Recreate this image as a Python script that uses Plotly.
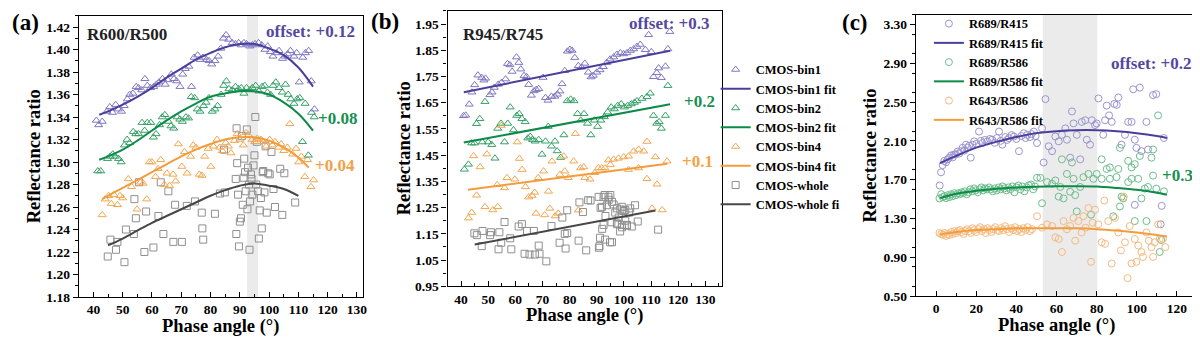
import plotly.graph_objects as go

# ---------------- data: panel (a) R600/R500 ----------------
a_bin1_x = [41.0, 41.8, 43.0, 44.6, 45.6, 46.5, 47.6, 48.5, 49.6, 50.5,
            51.6, 52.4, 53.5, 54.6, 55.4, 56.5, 57.6, 58.4, 59.5, 60.6,
            61.5, 62.4, 63.6, 64.5, 65.4, 66.6, 67.5, 68.4, 69.6, 70.5,
            71.4, 72.6, 73.5, 74.4, 75.6, 76.5, 77.4, 78.6, 79.5, 80.4,
            81.5, 82.6, 83.5, 84.4, 85.3, 86.2, 87.4, 88.5, 89.6, 90.5,
            91.4, 92.3, 93.4, 94.3, 95.2, 96.4, 97.5, 98.6, 99.5, 100.4,
            101.3, 102.5, 103.4, 104.6, 105.5, 106.4, 107.3, 108.5, 109.4, 110.3,
            111.5, 112.4, 113.5, 114.4, 115.5]
a_bin1_y = [1.337, 1.333, 1.336, 1.345, 1.349, 1.344, 1.351, 1.347, 1.345, 1.350,
            1.356, 1.360, 1.361, 1.367, 1.366, 1.364, 1.374, 1.368, 1.366, 1.367,
            1.369, 1.371, 1.374, 1.369, 1.373, 1.378, 1.374, 1.372, 1.367, 1.378,
            1.383, 1.385, 1.367, 1.393, 1.395, 1.391, 1.393, 1.391, 1.390, 1.387,
            1.390, 1.394, 1.401, 1.410, 1.413, 1.409, 1.406, 1.405, 1.406, 1.404,
            1.406, 1.405, 1.403, 1.404, 1.405, 1.406, 1.404, 1.400, 1.403, 1.398,
            1.394, 1.397, 1.399, 1.392, 1.394, 1.396, 1.399, 1.394, 1.397, 1.371,
            1.393, 1.397, 1.399, 1.372, 1.347]
a_bin2_x = [41.5, 42.5, 44.8, 45.7, 46.6, 47.5, 48.6, 49.5, 50.6, 51.5,
            52.4, 53.6, 54.5, 55.4, 56.6, 57.5, 58.4, 59.6, 60.5, 61.4,
            62.6, 63.5, 64.4, 65.6, 66.5, 67.4, 68.6, 69.5, 70.4, 71.6,
            72.5, 73.4, 74.6, 75.5, 76.4, 77.6, 78.5, 79.4, 80.6, 81.5,
            82.4, 83.6, 84.5, 85.4, 86.3, 87.4, 88.5, 89.6, 90.5, 91.4,
            92.3, 93.4, 94.3, 95.4, 96.5, 97.6, 98.5, 99.4, 100.5, 101.4,
            102.3, 103.4, 104.5, 105.6, 106.5, 107.4, 108.5, 109.6, 110.5, 111.4,
            112.3, 113.4, 114.5, 115.4]
a_bin2_y = [1.292, 1.292, 1.303, 1.305, 1.307, 1.305, 1.303, 1.300, 1.315, 1.320,
            1.317, 1.327, 1.325, 1.325, 1.335, 1.328, 1.335, 1.335, 1.322, 1.325,
            1.333, 1.340, 1.342, 1.336, 1.332, 1.330, 1.340, 1.338, 1.336, 1.340,
            1.339, 1.358, 1.357, 1.347, 1.345, 1.350, 1.353, 1.357, 1.345, 1.347,
            1.350, 1.360, 1.368, 1.372, 1.365, 1.364, 1.367, 1.365, 1.366, 1.361,
            1.366, 1.364, 1.366, 1.368, 1.363, 1.367, 1.368, 1.362, 1.360, 1.368,
            1.371, 1.366, 1.362, 1.369, 1.360, 1.356, 1.352, 1.356, 1.357, 1.318,
            1.352, 1.306, 1.344, 1.340]
a_bin4_x = [43.0, 44.0, 45.2, 46.1, 47.0, 48.2, 49.1, 50.0, 51.9, 53.0,
            54.9, 56.1, 57.0, 58.2, 59.1, 60.0, 61.2, 62.1, 63.0, 64.2,
            65.1, 66.0, 67.2, 68.1, 69.0, 70.2, 71.1, 72.0, 73.2, 74.1,
            75.0, 76.2, 77.1, 78.0, 79.2, 80.1, 81.0, 82.2, 83.1, 84.0,
            85.2, 86.1, 87.0, 88.2, 89.1, 90.0, 91.2, 92.1, 93.0, 94.2,
            95.1, 96.0, 97.2, 98.1, 99.0, 100.2, 101.1, 102.0, 103.2, 104.1,
            105.0, 106.2, 107.1, 108.0, 109.2, 110.1, 111.0, 112.2, 113.1, 114.3,
            115.2]
a_bin4_y = [1.253, 1.267, 1.270, 1.263, 1.271, 1.262, 1.270, 1.268, 1.285, 1.278,
            1.258, 1.282, 1.281, 1.267, 1.300, 1.300, 1.287, 1.294, 1.302, 1.280,
            1.290, 1.279, 1.289, 1.283, 1.316, 1.296, 1.309, 1.290, 1.305, 1.315,
            1.313, 1.289, 1.288, 1.305, 1.312, 1.296, 1.314, 1.320, 1.313, 1.310,
            1.317, 1.314, 1.308, 1.319, 1.325, 1.320, 1.315, 1.326, 1.324, 1.320,
            1.318, 1.321, 1.320, 1.318, 1.314, 1.320, 1.315, 1.318, 1.313, 1.316,
            1.310, 1.313, 1.334, 1.307, 1.312, 1.300, 1.305, 1.287, 1.302, 1.278,
            1.284]
a_whole_x = [44.9, 45.8, 47.7, 48.2, 50.6, 51.1, 53.8, 54.0, 54.5, 55.6,
             57.4, 58.0, 60.5, 62.2, 63.0, 63.9, 65.6, 67.3, 67.9, 70.2,
             71.9, 74.7, 77.0, 77.2, 77.5, 81.5, 83.2, 84.6, 84.9, 88.6,
             88.8, 88.9, 89.1, 89.4, 89.7, 90.0, 90.4, 90.7, 91.0, 91.3,
             91.5, 91.8, 92.0, 92.4, 92.6, 92.8, 93.1, 93.3, 93.5, 93.8,
             94.0, 94.3, 94.7, 95.0, 95.3, 95.6, 95.8, 96.2, 96.5, 96.8,
             97.2, 97.5, 97.8, 98.0, 98.4, 98.8, 99.2, 99.7, 100.2, 100.8,
             101.5, 102.0, 103.8, 104.5, 105.2, 108.9]
a_whole_y = [1.216, 1.231, 1.222, 1.229, 1.211, 1.240, 1.236, 1.267, 1.250, 1.282,
             1.220, 1.256, 1.224, 1.252, 1.282, 1.236, 1.274, 1.229, 1.262, 1.229,
             1.261, 1.265, 1.255, 1.241, 1.231, 1.254, 1.272, 1.311, 1.273, 1.285,
             1.236, 1.330, 1.299, 1.271, 1.225, 1.247, 1.250, 1.323, 1.262, 1.286,
             1.303, 1.291, 1.274, 1.329, 1.258, 1.295, 1.280, 1.222, 1.265, 1.289,
             1.285, 1.271, 1.297, 1.306, 1.340, 1.280, 1.318, 1.274, 1.232, 1.257,
             1.268, 1.241, 1.291, 1.292, 1.273, 1.314, 1.255, 1.290, 1.289, 1.309,
             1.276, 1.260, 1.294, 1.253, 1.290, 1.264]
a_fit_x = [42, 45, 50, 55, 60, 65, 70, 75, 80, 85, 90, 95, 100, 105, 110, 115]
a_fit1_y = [1.342, 1.345, 1.351, 1.358, 1.366, 1.375, 1.383, 1.391, 1.397, 1.402,
            1.405, 1.405, 1.401, 1.395, 1.384, 1.367]
a_fit2_y = [1.302, 1.305, 1.311, 1.319, 1.328, 1.337, 1.345, 1.352, 1.358, 1.361,
            1.363, 1.363, 1.360, 1.353, 1.343, 1.328]
a_fit4_x = [43, 45, 50, 55, 60, 65, 70, 75, 80, 85, 90, 95, 100, 105, 110, 113.5]
a_fit4_y = [1.267, 1.270, 1.277, 1.284, 1.291, 1.298, 1.305, 1.311, 1.316, 1.320,
            1.322, 1.322, 1.319, 1.313, 1.304, 1.295]
a_fitw_x = [45, 50, 55, 60, 65, 70, 75, 80, 85, 90, 95, 100, 105, 110]
a_fitw_y = [1.226, 1.232, 1.239, 1.246, 1.252, 1.258, 1.264, 1.270, 1.275, 1.279,
            1.281, 1.279, 1.276, 1.270]

# ---------------- data: panel (b) R945/R745 ----------------
b_bin1_x = [40.9, 41.7, 43.0, 44.0, 45.0, 46.2, 47.6, 48.4, 49.0, 50.6,
            51.4, 52.2, 53.7, 54.9, 56.4, 57.1, 58.0, 58.8, 60.4, 61.3,
            62.0, 63.2, 64.1, 64.9, 65.9, 66.9, 67.7, 68.6, 70.2, 71.1,
            72.0, 73.3, 74.5, 75.5, 76.4, 77.2, 78.2, 79.2, 80.1, 80.9,
            81.9, 83.2, 84.4, 85.6, 86.9, 87.9, 88.7, 90.0, 91.2, 92.4,
            93.7, 94.9, 96.2, 97.4, 98.7, 99.9, 101.1, 102.4, 103.6, 104.8,
            106.0, 107.9, 109.1, 110.1, 110.9, 112.1, 112.8, 113.8, 115.3, 116.2,
            116.9]
b_bin1_y = [1.600, 1.602, 1.644, 1.690, 1.718, 1.755, 1.746, 1.736, 1.743, 1.680,
            1.690, 1.708, 1.720, 1.727, 1.740, 1.799, 1.794, 1.769, 1.824, 1.803,
            1.778, 1.753, 1.749, 1.719, 1.678, 1.695, 1.700, 1.703, 1.746, 1.669,
            1.659, 1.674, 1.674, 1.682, 1.694, 1.722, 1.772, 1.846, 1.853, 1.849,
            1.822, 1.791, 1.785, 1.800, 1.766, 1.748, 1.754, 1.766, 1.775, 1.787,
            1.803, 1.816, 1.824, 1.834, 1.840, 1.836, 1.840, 1.849, 1.855, 1.864,
            1.872, 1.852, 1.909, 1.844, 1.749, 1.764, 1.782, 1.745, 1.789, 1.855,
            1.921]
b_bin2_x = [41.2, 42.7, 43.9, 44.9, 45.7, 46.9, 47.8, 48.8, 50.0, 51.3,
            52.5, 53.5, 54.7, 56.0, 57.2, 58.1, 59.3, 60.5, 61.4, 62.4,
            63.6, 64.6, 65.5, 66.3, 67.3, 68.6, 69.8, 71.1, 72.1, 73.3,
            74.6, 75.4, 76.7, 77.9, 79.1, 80.4, 81.6, 82.9, 84.1, 85.3,
            86.6, 87.8, 89.1, 90.3, 91.5, 92.8, 94.0, 95.3, 96.5, 97.7,
            99.0, 100.2, 101.4, 102.7, 103.9, 104.8, 106.6, 108.5, 109.7, 110.9,
            112.1, 113.0, 113.8, 115.3, 116.2]
b_bin2_y = [1.396, 1.415, 1.496, 1.496, 1.570, 1.589, 1.500, 1.654, 1.500, 1.490,
            1.438, 1.552, 1.571, 1.500, 1.571, 1.633, 1.546, 1.601, 1.608, 1.589,
            1.577, 1.515, 1.521, 1.509, 1.503, 1.509, 1.453, 1.503, 1.559, 1.484,
            1.503, 1.466, 1.441, 1.527, 1.657, 1.663, 1.657, 1.608, 1.583, 1.608,
            1.571, 1.527, 1.583, 1.559, 1.583, 1.596, 1.614, 1.633, 1.626, 1.639,
            1.645, 1.633, 1.639, 1.645, 1.651, 1.657, 1.666, 1.673, 1.686, 1.601,
            1.571, 1.577, 1.552, 1.601, 1.715]
b_bin4_x = [42.7, 43.9, 44.6, 45.7, 47.0, 48.8, 49.5, 51.7, 53.3, 53.5,
            54.8, 56.0, 56.9, 59.8, 60.7, 61.5, 62.5, 63.7, 64.9, 66.1,
            67.1, 67.6, 68.4, 70.4, 70.8, 72.2, 72.7, 73.5, 74.7, 75.8,
            76.4, 77.8, 78.2, 79.5, 81.5, 82.1, 83.2, 84.0, 85.2, 85.6,
            87.5, 89.3, 90.6, 91.8, 93.0, 94.3, 95.0, 96.2, 98.0, 99.9,
            101.7, 101.7, 103.6, 105.4, 105.4, 107.3, 108.5, 108.5, 110.4, 111.6,
            112.2, 114.1, 115.9]
b_bin4_y = [1.210, 1.231, 1.447, 1.297, 1.405, 1.253, 1.454, 1.241, 1.337, 1.253,
            1.563, 1.325, 1.364, 1.358, 1.500, 1.437, 1.395, 1.329, 1.290, 1.296,
            1.308, 1.228, 1.364, 1.389, 1.222, 1.312, 1.247, 1.427, 1.218, 1.228,
            1.376, 1.446, 1.389, 1.364, 1.427, 1.532, 1.240, 1.401, 1.405, 1.364,
            1.358, 1.383, 1.401, 1.401, 1.401, 1.431, 1.414, 1.434, 1.438, 1.443,
            1.446, 1.395, 1.465, 1.472, 1.401, 1.465, 1.502, 1.360, 1.247, 1.443,
            1.339, 1.241, 1.427]
b_whole_x = [44.9, 45.8, 47.6, 47.9, 50.7, 51.0, 53.8, 54.1, 54.8, 56.0,
             58.1, 58.5, 61.2, 62.4, 63.4, 64.3, 65.2, 66.8, 67.2, 68.6,
             68.9, 71.4, 73.3, 76.3, 77.3, 78.2, 78.5, 79.1, 79.1, 83.3,
             83.6, 84.9, 86.1, 86.8, 87.7, 90.7, 90.8, 91.0, 91.2, 91.4,
             91.9, 92.0, 92.5, 92.5, 92.9, 93.1, 93.2, 93.7, 94.3, 94.4,
             94.9, 95.0, 95.4, 95.6, 95.6, 96.2, 96.8, 97.4, 97.4, 97.5,
             98.1, 98.6, 98.7, 99.2, 99.2, 99.3, 99.9, 100.5, 100.5, 101.1,
             101.1, 101.9, 102.3, 102.9, 104.1, 105.1, 112.6]
b_whole_y = [1.152, 1.145, 1.103, 1.161, 1.145, 1.156, 1.091, 1.156, 1.116, 1.195,
             1.133, 1.091, 1.178, 1.187, 1.074, 1.161, 1.071, 1.161, 1.071, 1.105,
             1.074, 1.045, 1.180, 1.116, 1.212, 1.150, 1.094, 1.240, 1.153, 1.124,
             1.270, 1.233, 1.087, 1.278, 1.277, 1.291, 1.097, 1.103, 1.135, 1.249,
             1.253, 1.169, 1.291, 1.184, 1.298, 1.128, 1.218, 1.259, 1.291, 1.280,
             1.118, 1.298, 1.194, 1.272, 1.118, 1.262, 1.231, 1.247, 1.190, 1.187,
             1.212, 1.159, 1.243, 1.253, 1.184, 1.175, 1.237, 1.241, 1.200, 1.181,
             1.184, 1.231, 1.247, 1.178, 1.259, 1.197, 1.166]
b_fit1_x = [41, 117]
b_fit1_y = [1.690, 1.848]
b_fit2_x = [41, 117]
b_fit2_y = [1.498, 1.644]
b_fit4_x = [42.5, 116]
b_fit4_y = [1.318, 1.417]
b_fitw_x = [45, 111.6]
b_fitw_y = [1.109, 1.239]

# ---------------- data: panel (c) ----------------
c_r415_x = [1.8, 2.5, 3.3, 4.1, 5.0, 5.8, 6.6, 7.5, 8.3, 9.0,
            9.9, 10.8, 11.6, 12.4, 13.2, 14.1, 14.9, 15.8, 16.5, 17.3,
            18.2, 19.0, 20.1, 21.4, 22.3, 23.1, 24.3, 25.6, 26.8, 28.0,
            29.2, 30.3, 31.4, 32.2, 33.0, 34.5, 35.4, 36.3, 37.6, 38.8,
            40.0, 41.3, 42.5, 43.7, 44.6, 45.4, 46.8, 47.6, 48.7, 49.6,
            50.3,
            52.8, 53.6, 54.5, 56.1, 57.8, 59.4, 61.1, 62.7, 64.4, 65.2,
            66.8, 67.7, 68.5, 70.1, 71.8, 72.6, 74.3, 75.1, 76.7, 77.6,
            79.2, 80.0, 80.9, 83.3, 84.2, 85.0, 86.2, 87.5, 88.8, 90.0,
            90.8, 92.4, 94.1, 95.7, 97.4, 98.2, 99.0, 99.0, 99.8, 101.5,
            102.3, 104.8, 105.6, 108.1, 109.7, 111.9, 112.4, 113.5]
c_r415_y = [1.64, 1.776, 1.85, 1.893, 1.88, 1.91, 1.927, 1.95, 1.93, 1.96,
            1.961, 1.99, 1.97, 1.994, 2.028, 2.00, 2.061, 2.03, 2.05, 1.927,
            2.06, 2.095, 2.07, 2.196, 2.10, 2.078, 2.11, 2.095, 2.12, 2.112,
            2.08, 2.13, 2.196, 2.10, 2.061, 2.14, 2.11, 2.128, 2.16, 2.145,
            2.12, 1.994, 2.15, 2.179, 2.13, 2.162, 2.14, 2.17, 2.196, 2.15,
            2.078,
            2.229, 1.877, 2.531, 2.045, 1.994, 2.145, 2.095, 2.162, 2.229, 2.112,
            1.927, 2.404, 2.280, 2.162, 1.910, 2.296, 2.313, 2.112, 2.061, 2.313,
            2.263, 2.280, 2.538, 2.162, 2.313, 2.464, 2.363, 2.296, 2.481, 2.471,
            2.548, 2.061, 2.162, 2.296, 2.296, 2.632, 2.112, 1.44, 2.028, 2.649,
            1.994, 2.296, 2.011, 2.572, 2.582, 1.24, 1.43, 2.13]
c_r586_x = [1.7, 2.6, 3.3, 4.2, 5.0, 5.8, 6.6, 7.5, 8.3, 9.1,
            9.9, 10.9, 11.8, 12.7, 13.5, 14.4, 15.3, 16.2, 17.1, 18.0,
            19.0, 19.8, 20.8, 21.7, 22.6, 23.5, 24.4, 25.4, 26.4, 27.3,
            28.3, 29.2, 30.2, 31.2, 32.1, 33.1, 34.0, 35.0, 36.0, 37.0,
            38.0, 39.0, 40.0, 41.0, 42.0, 43.0, 44.0, 45.2, 46.2, 47.3,
            48.4, 49.3,
            50.3, 52.0, 52.8, 55.3, 57.8, 59.4, 61.1, 61.9, 62.7, 63.5,
            65.2, 66.8, 67.7, 68.5, 69.3, 70.1, 71.8, 73.4, 75.9, 77.2,
            78.4, 80.0, 82.5, 82.5, 85.0, 86.6, 86.6, 88.3, 89.9, 90.8,
            91.6, 91.6, 92.4, 93.2, 95.7, 95.7, 97.4, 97.4, 99.0, 99.0,
            100.7, 101.5, 102.3, 104.0, 104.8, 105.6, 107.3, 108.1, 108.1, 109.7,
            110.6, 111.4, 112.2, 113.5]
c_r586_y = [1.507, 1.55, 1.52, 1.53, 1.51, 1.54, 1.52, 1.55, 1.53, 1.56,
            1.54, 1.56, 1.55, 1.57, 1.56, 1.58, 1.55, 1.57, 1.60, 1.58,
            1.61, 1.59, 1.57, 1.60, 1.62, 1.59, 1.61, 1.60, 1.62, 1.60,
            1.58, 1.61, 1.59, 1.62, 1.60, 1.63, 1.61, 1.59, 1.62, 1.60,
            1.63, 1.57, 1.62, 1.64, 1.60, 1.63, 1.58, 1.62, 1.642, 1.65,
            1.60, 1.63,
            1.719, 1.719, 1.457, 1.675, 1.658, 1.692, 1.525, 1.625, 1.910, 1.507,
            1.759, 1.575, 1.877, 1.709, 1.541, 1.373, 1.625, 1.726, 1.759, 1.339,
            1.709, 1.759, 1.709, 1.910, 1.810, 1.709, 1.826, 1.323, 1.726, 1.810,
            1.424, 2.028, 1.525, 1.507, 1.675, 1.894, 1.709, 1.826, 1.273, 1.860,
            1.709, 1.944, 1.507, 1.608, 1.273, 1.625, 1.927, 1.742, 2.011, 1.608,
            2.363, 0.954, 1.078, 1.58]
c_r643_x = [1.7, 2.6, 3.4, 4.2, 5.0, 5.9, 6.7, 7.6, 8.4, 9.3,
            10.1, 11.0, 11.9, 12.8, 13.7, 14.6, 15.5, 16.4, 17.3, 18.2,
            19.1, 20.0, 21.0, 21.9, 22.8, 23.8, 24.7, 25.7, 26.6, 27.6,
            28.5, 29.5, 30.5, 31.4, 32.4, 33.4, 34.4, 35.4, 36.4, 37.4,
            38.4, 39.4, 40.4, 41.5, 42.5, 43.5, 44.6, 45.6, 46.7, 47.8,
            50.3, 52.8, 55.3, 57.8, 59.4, 61.1, 62.7, 63.5, 65.2, 66.8,
            68.5, 69.3, 70.9, 72.5, 73.4, 74.5, 75.9, 77.2, 78.0, 79.2,
            80.8, 82.5, 83.8, 84.2, 85.8, 87.5, 89.1, 90.8, 92.1, 93.5,
            94.1, 95.4, 96.5, 97.4, 99.0, 99.8, 100.7, 102.3, 103.1, 104.8,
            106.0, 107.3, 108.1, 108.9, 110.6, 111.4, 113.0, 114.2]
c_r643_y = [1.15, 1.14, 1.13, 1.15, 1.12, 1.14, 1.13, 1.16, 1.14, 1.17,
            1.15, 1.17, 1.18, 1.16, 1.14, 1.17, 1.19, 1.17, 1.15, 1.20,
            1.18, 1.16, 1.19, 1.21, 1.17, 1.19, 1.15, 1.20, 1.18, 1.16,
            1.19, 1.21, 1.18, 1.17, 1.20, 1.18, 1.22, 1.19, 1.16, 1.20,
            1.18, 1.21, 1.17, 1.19, 1.16, 1.20, 1.18, 1.21, 1.17, 1.19,
            1.323, 1.205, 1.239, 1.222, 1.105, 1.088, 0.954, 1.273, 1.189, 1.222,
            1.306, 1.071, 1.273, 1.155, 1.323, 1.205, 1.407, 0.853, 1.256, 1.390,
            1.239, 1.054, 1.484, 1.038, 1.273, 0.836, 1.306, 1.155, 0.970, 1.525,
            1.054, 0.685, 1.222, 0.836, 1.088, 0.853, 1.021, 0.954, 0.903, 1.155,
            1.071, 1.004, 0.903, 1.054, 1.239, 1.088, 1.088, 1.004]
c_fit_x = [2, 10, 20, 30, 40, 50, 60, 70, 80, 90, 100, 110, 115]
c_fit1_y = [1.87, 1.945, 2.03, 2.09, 2.14, 2.18, 2.20, 2.21, 2.21, 2.20, 2.18, 2.15, 2.13]
c_fit2_y = [1.51, 1.555, 1.585, 1.607, 1.620, 1.628, 1.632, 1.633, 1.630, 1.615, 1.595, 1.565, 1.545]
c_fit3_y = [1.135, 1.16, 1.18, 1.19, 1.198, 1.20, 1.20, 1.198, 1.19, 1.175, 1.155, 1.13, 1.115]

legend_b = ["CMOS-bin1", "CMOS-bin1 fit", "CMOS-bin2", "CMOS-bin2 fit",
            "CMOS-bin4", "CMOS-bin4 fit", "CMOS-whole", "CMOS-whole fi"]
legend_c = ["R689/R415", "R689/R415 fit", "R689/R586", "R689/R586 fit",
            "R643/R586", "R643/R586 fit"]

# ---------------- styling ----------------
W, H = 1200, 339
FONT = "Liberation Serif"
PURPLE, GREEN, ORANGE, DARK = "#4a3e9c", "#0d8a48", "#f39c3c", "#474747"
M_PURPLE, M_GREEN, M_ORANGE, M_GRAY = "#7f76c2", "#35a066", "#f2a751", "#8f8f8f"
C_PURPLE, C_GREEN, C_ORANGE = "#9b94cf", "#6cbd8c", "#f5ba7e"


def px(x):
    return x / W


def py(y):
    return 1 - y / H


fig = go.Figure()


def scat(x, y, xa, ya, symbol, color, name, legend=None, size=7):
    fig.add_trace(go.Scatter(
        x=x, y=y, xaxis=xa, yaxis=ya, mode="markers", name=name,
        marker=dict(symbol=symbol, size=size, color=color, line=dict(width=1, color=color)),
        showlegend=legend is not None, legend=legend or "legend"))


def fitline(x, y, xa, ya, color, name, legend=None):
    fig.add_trace(go.Scatter(
        x=x, y=y, xaxis=xa, yaxis=ya, mode="lines", name=name,
        line=dict(color=color, width=2, shape="spline", smoothing=1.0),
        showlegend=legend is not None, legend=legend or "legend"))


# panel a
scat(a_whole_x, a_whole_y, "x", "y", "square-open", M_GRAY, "w")
scat(a_bin4_x, a_bin4_y, "x", "y", "triangle-up-open", M_ORANGE, "b4")
scat(a_bin2_x, a_bin2_y, "x", "y", "triangle-up-open", M_GREEN, "b2")
scat(a_bin1_x, a_bin1_y, "x", "y", "triangle-up-open", M_PURPLE, "b1")
fitline(a_fit_x, a_fit1_y, "x", "y", PURPLE, "f1")
fitline(a_fit_x, a_fit2_y, "x", "y", GREEN, "f2")
fitline(a_fit4_x, a_fit4_y, "x", "y", ORANGE, "f4")
fitline(a_fitw_x, a_fitw_y, "x", "y", DARK, "fw")

# panel b (carries the CMOS legend)
scat(b_bin1_x, b_bin1_y, "x2", "y2", "triangle-up-open", M_PURPLE, legend_b[0], "legend")
fitline(b_fit1_x, b_fit1_y, "x2", "y2", PURPLE, legend_b[1], "legend")
scat(b_bin2_x, b_bin2_y, "x2", "y2", "triangle-up-open", M_GREEN, legend_b[2], "legend")
fitline(b_fit2_x, b_fit2_y, "x2", "y2", GREEN, legend_b[3], "legend")
scat(b_bin4_x, b_bin4_y, "x2", "y2", "triangle-up-open", M_ORANGE, legend_b[4], "legend")
fitline(b_fit4_x, b_fit4_y, "x2", "y2", ORANGE, legend_b[5], "legend")
scat(b_whole_x, b_whole_y, "x2", "y2", "square-open", M_GRAY, legend_b[6], "legend")
fitline(b_fitw_x, b_fitw_y, "x2", "y2", DARK, legend_b[7], "legend")

# panel c
scat(c_r415_x, c_r415_y, "x3", "y3", "circle-open", C_PURPLE, legend_c[0], "legend2")
fitline(c_fit_x, c_fit1_y, "x3", "y3", PURPLE, legend_c[1], "legend2")
scat(c_r586_x, c_r586_y, "x3", "y3", "circle-open", C_GREEN, legend_c[2], "legend2")
fitline(c_fit_x, c_fit2_y, "x3", "y3", GREEN, legend_c[3], "legend2")
scat(c_r643_x, c_r643_y, "x3", "y3", "circle-open", C_ORANGE, legend_c[4], "legend2")
fitline(c_fit_x, c_fit3_y, "x3", "y3", ORANGE, legend_c[5], "legend2")

tickfont = dict(family=FONT, size=13.5, color="black", weight="bold")
base = dict(showline=True, linecolor="black", linewidth=1.3, mirror=True, showgrid=False,
            zeroline=False, tickfont=tickfont, ticklen=5, tickwidth=1.2, tickcolor="black")


def xax(dom, rng, dtick, minor):
    d = dict(base)
    d.update(domain=dom, range=rng, dtick=dtick, tick0=0, ticks="inside",
             minor=dict(ticks="inside", ticklen=3, tickcolor="black", tickwidth=1, dtick=minor, showgrid=False))
    return d


def yax(dom, rng, tick0, dtick, minor, anchor):
    d = dict(base)
    d.update(domain=dom, range=rng, tick0=tick0, dtick=dtick, ticks="outside", tickformat=".2f",
             anchor=anchor,
             minor=dict(ticks="outside", ticklen=3, tickcolor="black", tickwidth=1, dtick=minor, showgrid=False))
    return d


fig.update_layout(
    width=W, height=H, margin=dict(l=0, r=0, t=0, b=0),
    paper_bgcolor="white", plot_bgcolor="white",
    font=dict(family=FONT, color="black", weight="bold"),
    xaxis=dict(xax([px(71), px(356)], [35, 132], 10, 5), anchor="y"),
    yaxis=yax([py(296), py(8)], [1.18, 1.43], 1.18, 0.02, 0.01, "x"),
    xaxis2=dict(xax([px(441), px(716)], [35, 136], 10, 5), anchor="y2"),
    yaxis2=yax([py(285), py(3)], [0.95, 2.0], 0.95, 0.1, 0.05, "x2"),
    xaxis3=dict(xax([px(911), px(1193)], [-10, 130], 20, 10), anchor="y3"),
    yaxis3=yax([py(295), py(7)], [0.5, 3.4], 0.5, 0.4, 0.2, "x3"),
    legend=dict(x=px(710), y=py(48), xanchor="left", yanchor="top", bgcolor="rgba(0,0,0,0)",
                font=dict(family=FONT, size=12.5, color="black", weight="bold"), itemwidth=30),
    legend2=dict(x=px(924), y=py(1), xanchor="left", yanchor="top", bgcolor="rgba(0,0,0,0)",
                 font=dict(family=FONT, size=12.5, color="black", weight="bold"), itemwidth=30),
    shapes=[
        dict(type="rect", xref="x", yref="y domain", x0=92.5, x1=96.2, y0=0, y1=1,
             fillcolor="#ebebeb", line=dict(width=0), layer="below"),
        dict(type="rect", xref="x3", yref="y3 domain", x0=53.2, x1=80.3, y0=0, y1=1,
             fillcolor="#ebebeb", line=dict(width=0), layer="below"),
    ],
)


def ann(text, x, y, size, color="black", xanchor="left", angle=0):
    fig.add_annotation(text=text, x=px(x), y=py(y), xref="paper", yref="paper",
                       xanchor=xanchor, yanchor="middle", showarrow=False, textangle=angle,
                       font=dict(family=FONT, size=size, color=color, weight="bold"))


# axis titles
for cx, cy in ((27, 152), (397, 144), (865, 151)):
    ann("Reflectance ratio", cx, cy, 18.5, xanchor="center", angle=-90)
ann("Phase angle (°)", 213.5, 326, 18.5, xanchor="center")
ann("Phase angle (°)", 578.5, 315, 18.5, xanchor="center")
ann("Phase angle (°)", 1052, 325, 18.5, xanchor="center")

# panel labels
ann("(a)", 18, 15, 23, xanchor="center")
ann("(b)", 378, 14, 23, xanchor="center")
ann("(c)", 850, 15, 23, xanchor="center")

# in-plot texts
ann("R600/R500", 77, 27, 17, "#222222")
ann("offset: +0.12", 257, 24, 17, "#53479f")
ann("+0.08", 309, 113, 17, "#17904f")
ann("+0.04", 306, 161, 17, "#f4a247")
ann("R945/R745", 455, 27, 17, "#222222")
ann("offset: +0.3", 621, 16, 17, "#53479f")
ann("+0.2", 676, 96, 17, "#17904f")
ann("+0.1", 674, 157, 17, "#f4a247")
ann("offset: +0.2", 1105, 57, 17, "#53479f")
ann("+0.3", 1156, 172, 17, "#17904f")

fig.write_html("out.html")
